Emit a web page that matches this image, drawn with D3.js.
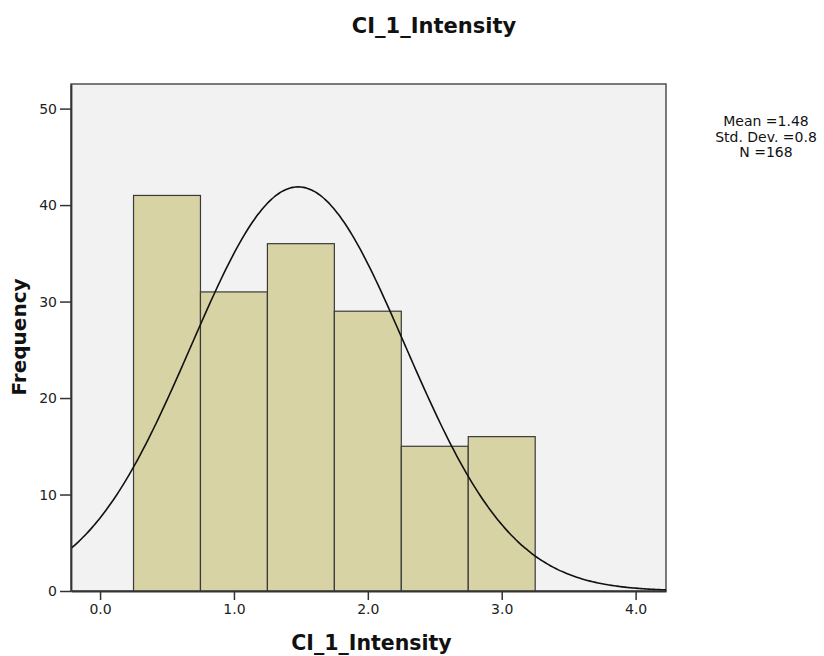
<!DOCTYPE html>
<html>
<head>
<meta charset="utf-8">
<script src="https://cdn.jsdelivr.net/npm/d3@7"></script>
<style>
  body { margin: 0; background: #fff; }
  svg { display: block; font-family: "DejaVu Sans", "Liberation Sans", sans-serif; }
</style>
</head>
<body>
<svg id="chart"></svg>
<script>
// histogram bins (lower edge, upper edge) and counts
const binStart = [0.25, 0.75, 1.25, 1.75, 2.25, 2.75];
const binEnd = [0.75, 1.25, 1.75, 2.25, 2.75, 3.25];
const counts = [41, 31, 36, 29, 15, 16];
const xTicks = [0, 1, 2, 3, 4];
const yTicks = [0, 10, 20, 30, 40, 50];
// summary stats shown in the legend, also used for the normal curve
const mean = 1.48;
const sd = 0.8;
const n = 168;

const w = 824;
const h = 656;
const margin = { top: 84, right: 158, bottom: 65, left: 71 };

const svg = d3.select("#chart").attr("width", w).attr("height", h);

const xScale = d3.scaleLinear().domain([-0.217, 4.227]).range([margin.left, w - margin.right]);
const yScale = d3.scaleLinear().domain([0, 52.55]).range([h - margin.bottom, margin.top]);

const plotLeft = margin.left, plotRight = w - margin.right;
const plotTop = margin.top, plotBottom = h - margin.bottom;

// plot background
svg.append("rect")
  .attr("x", plotLeft).attr("y", plotTop)
  .attr("width", plotRight - plotLeft).attr("height", plotBottom - plotTop)
  .attr("fill", "#f2f2f2")
  .attr("stroke", "#505050")
  .attr("stroke-width", 1.5);

svg.append("clipPath").attr("id", "plotClip")
  .append("rect")
  .attr("x", plotLeft).attr("y", plotTop)
  .attr("width", plotRight - plotLeft).attr("height", plotBottom - plotTop);

//bars
svg.selectAll(".bar")
  .data(counts)
  .enter()
  .append("rect")
  .attr("class", "bar")
  .attr("x", (d, i) => xScale(binStart[i]))
  .attr("y", (d) => yScale(d))
  .attr("width", (d, i) => xScale(binEnd[i]) - xScale(binStart[i]))
  .attr("height", (d) => yScale(0) - yScale(d))
  .attr("fill", "#d7d3a5")
  .attr("stroke", "#3a3a3a")
  .attr("stroke-width", 1.2);

// normal curve from mean / sd / n
const binWidth = binEnd[0] - binStart[0];
const curveX = d3.range(-0.3, 4.3, 0.02);
const line = d3.line()
  .x((d) => xScale(d))
  .y((d) => {
    const z = (d - mean) / sd;
    return yScale(n * binWidth * Math.exp(-0.5 * z * z) / (sd * Math.sqrt(2 * Math.PI)));
  })
  .curve(d3.curveBasis);

svg.append("path")
  .datum(curveX)
  .attr("clip-path", "url(#plotClip)")
  .attr("fill", "none")
  .attr("stroke", "#111")
  .attr("stroke-width", 1.6)
  .attr("d", line);

//axes
const xAxis = d3.axisBottom(xScale)
  .tickValues(xTicks)
  .tickFormat(d3.format(".1f"))
  .tickSize(9)
  .tickSizeOuter(0)
  .tickPadding(4);

const yAxis = d3.axisLeft(yScale)
  .tickValues(yTicks)
  .tickSize(11)
  .tickSizeOuter(0)
  .tickPadding(3);

const gx = svg.append("g")
  .attr("transform", `translate(0, ${plotBottom})`)
  .call(xAxis);

const gy = svg.append("g")
  .attr("transform", `translate(${plotLeft}, 0)`)
  .call(yAxis);

[gx, gy].forEach((g) => {
  g.select(".domain").attr("stroke", "#333").attr("stroke-width", 1.8);
  g.selectAll(".tick line").attr("stroke", "#333").attr("stroke-width", 1.5);
  g.selectAll(".tick text")
    .attr("fill", "#222")
    .style("font-size", "14px")
    .style("font-family", "DejaVu Sans, sans-serif");
});

// title and axis labels
svg.append("text")
  .attr("x", 434).attr("y", 33)
  .attr("text-anchor", "middle")
  .style("font-size", "21px").style("font-weight", "bold")
  .attr("fill", "#111")
  .text("CI_1_Intensity");

svg.append("text")
  .attr("x", (plotLeft + plotRight) / 2 + 3).attr("y", 650)
  .attr("text-anchor", "middle")
  .style("font-size", "20.5px").style("font-weight", "bold")
  .attr("fill", "#111")
  .text("CI_1_Intensity");

svg.append("text")
  .attr("transform", "translate(26, 337) rotate(-90)")
  .attr("text-anchor", "middle")
  .style("font-size", "20px").style("font-weight", "bold")
  .attr("fill", "#111")
  .text("Frequency");

// legend
const legend = [`Mean =${mean}`, `Std. Dev. =${sd}`, `N =${n}`];
svg.selectAll(".legend")
  .data(legend)
  .enter()
  .append("text")
  .attr("class", "legend")
  .attr("x", 766)
  .attr("y", (d, i) => 126 + i * 15.5)
  .attr("text-anchor", "middle")
  .style("font-size", "14px")
  .attr("fill", "#111")
  .text((d) => d);
</script>
</body>
</html>
